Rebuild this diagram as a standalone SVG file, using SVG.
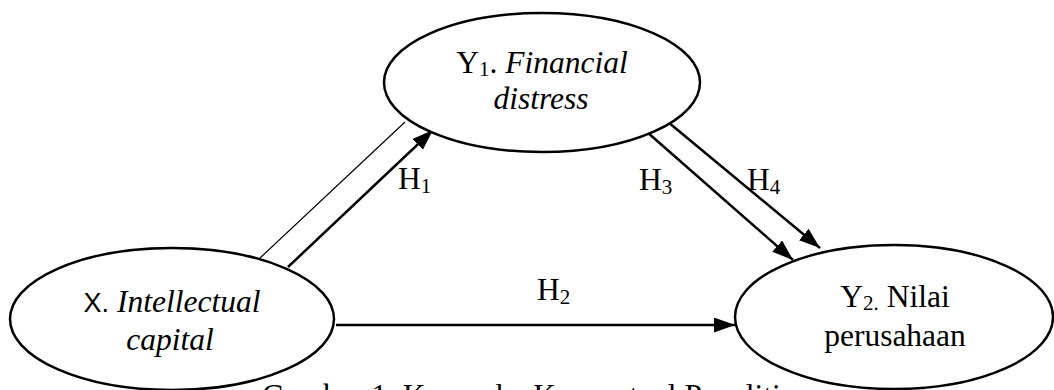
<svg xmlns="http://www.w3.org/2000/svg" width="1054" height="390" viewBox="0 0 1054 390">
<style>
.node { fill: #fff; stroke: #000; stroke-width: 2.5; }
.t { font-family: "Liberation Serif", "Times New Roman", serif; font-size: 31.5px; fill: #000; }
.i { font-style: italic; }
.s { font-family: "Liberation Sans", Arial, sans-serif; font-size: 27px; }
.sub { font-size: 21px; }
.line { stroke: #000; stroke-width: 2.5; fill: none; }
.thin { stroke: #000; stroke-width: 1.2; fill: none; }
</style>
<defs>
<marker id="arr" markerUnits="userSpaceOnUse" markerWidth="22" markerHeight="16" refX="21" refY="7.5" orient="auto">
<path d="M0,0 L21,7.5 L0,15 z" fill="#000"/>
</marker>
</defs>
<rect width="1054" height="390" fill="#fff"/>
<g id="connectors">
<line class="thin" x1="260" y1="258" x2="405" y2="122"/>
<line class="line" x1="288" y1="267" x2="433" y2="130" marker-end="url(#arr)"/>
<line class="line" x1="336" y1="325" x2="735" y2="325" marker-end="url(#arr)"/>
<line class="line" x1="647" y1="132" x2="793" y2="260" marker-end="url(#arr)"/>
<line class="line" x1="668" y1="122" x2="820" y2="248" marker-end="url(#arr)"/>
<text class="t" x="398" y="189">H<tspan class="sub" dy="4">1</tspan></text>
<text class="t" x="537" y="300">H<tspan class="sub" dy="4">2</tspan></text>
<text class="t" x="639" y="190">H<tspan class="sub" dy="4">3</tspan></text>
<text class="t" x="747" y="190">H<tspan class="sub" dy="4">4</tspan></text>
</g>
<g id="node-x">
<ellipse class="node" cx="172" cy="319" rx="162" ry="71"/>
<text class="t" x="172" y="312" text-anchor="middle"><tspan class="s">X.</tspan> <tspan class="i">Intellectual</tspan></text>
<text class="t i" x="170" y="350" text-anchor="middle">capital</text>
</g>
<g id="node-y1">
<ellipse class="node" cx="542" cy="82.5" rx="158" ry="69.5"/>
<text class="t" x="542" y="73" text-anchor="middle">Y<tspan class="sub" dy="3">1</tspan><tspan dy="-3">. </tspan><tspan class="i">Financial</tspan></text>
<text class="t i" x="541" y="109" text-anchor="middle">distress</text>
</g>
<g id="node-y2">
<ellipse class="node" cx="894" cy="317" rx="159" ry="72"/>
<text class="t" x="895" y="307" text-anchor="middle">Y<tspan class="sub" dy="3">2.</tspan><tspan dy="-3"> Nilai</tspan></text>
<text class="t" x="895" y="346" text-anchor="middle">perusahaan</text>
</g>
<text class="t" x="262" y="406" font-size="32">Gambar 1. Kerangka Konseptual Penelitian</text>
</svg>
